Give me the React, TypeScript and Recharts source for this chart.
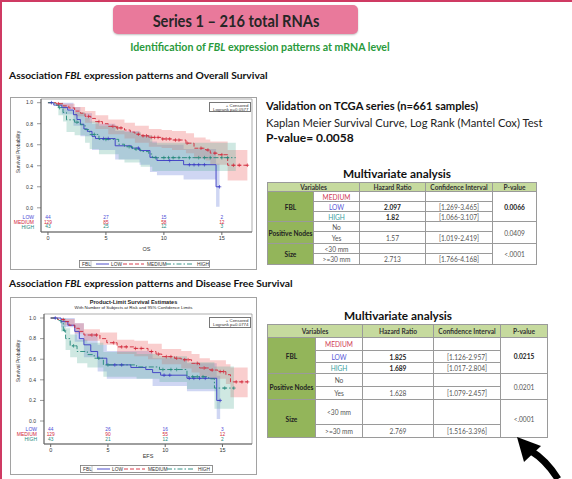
import React from 'react';
import { ComposedChart, Line, Area, Scatter, XAxis, YAxis, ReferenceArea } from 'recharts';

type Pt = [number, number];
type Band = [number, number, number];
type Group = 'LOW' | 'MEDIUM' | 'HIGH';

// ---- Overall survival (OS): [years, survival]
const osLow: Pt[] = [[0, 1], [0.5, 0.977], [1.2, 0.955], [1.7, 0.93], [2.2, 0.886], [2.5, 0.84], [2.8, 0.795], [3.1, 0.75], [3.4, 0.727], [3.8, 0.68], [4.1, 0.659], [5.8, 0.59], [7.2, 0.568], [7.9, 0.545], [8.8, 0.48], [9.4, 0.45], [11.7, 0.41], [14.5, 0.2], [14.8, 0.2]];
const osMedium: Pt[] = [[0, 1], [0.7, 0.99], [1.3, 0.97], [1.8, 0.95], [2.3, 0.92], [2.8, 0.9], [3.2, 0.87], [3.7, 0.85], [4.1, 0.82], [4.7, 0.8], [5.2, 0.775], [5.9, 0.76], [6.6, 0.74], [7.1, 0.72], [7.5, 0.7], [8.1, 0.685], [8.7, 0.67], [9.8, 0.655], [10.7, 0.645], [11.9, 0.615], [12.6, 0.567], [13.6, 0.55], [14.0, 0.52], [14.6, 0.505], [15.5, 0.405], [17.2, 0.405]];
const osHigh: Pt[] = [[0, 1], [0.6, 0.977], [0.9, 0.953], [1.3, 0.907], [1.6, 0.837], [2.3, 0.814], [2.8, 0.79], [3.2, 0.744], [3.6, 0.698], [4.4, 0.651], [6.1, 0.605], [6.6, 0.581], [7.3, 0.558], [8.0, 0.535], [8.7, 0.512], [9.0, 0.477], [16.2, 0.477]];

// 95% confidence limits: [years, lower, upper]
const osLowBand: Band[] = [[0, 1, 1], [1.2, 0.89, 1], [2.2, 0.78, 0.96], [2.8, 0.68, 0.9], [3.8, 0.55, 0.8], [5.8, 0.46, 0.73], [7.9, 0.41, 0.69], [8.8, 0.34, 0.63], [9.4, 0.31, 0.6], [11.7, 0.27, 0.56], [14.5, 0.01, 0.42], [14.8, 0.01, 0.42]];
const osMediumBand: Band[] = [[0, 1, 1], [0.7, 0.97, 1], [1.3, 0.94, 0.99], [2.3, 0.87, 0.96], [3.2, 0.81, 0.92], [4.1, 0.75, 0.88], [5.2, 0.7, 0.84], [6.6, 0.66, 0.81], [7.5, 0.62, 0.78], [8.7, 0.58, 0.75], [9.8, 0.57, 0.74], [10.7, 0.55, 0.73], [11.9, 0.52, 0.71], [12.6, 0.47, 0.67], [13.6, 0.45, 0.65], [14.0, 0.41, 0.63], [15.5, 0.26, 0.55], [17.2, 0.26, 0.55]];
const osHighBand: Band[] = [[0, 1, 1], [0.9, 0.88, 1], [1.3, 0.82, 0.97], [1.6, 0.72, 0.93], [2.3, 0.69, 0.91], [3.2, 0.62, 0.86], [3.6, 0.56, 0.82], [4.4, 0.51, 0.78], [6.1, 0.46, 0.74], [6.6, 0.43, 0.72], [8.0, 0.39, 0.69], [9.0, 0.35, 0.62], [16.2, 0.35, 0.62]];

const osLowCensor = [0.3, 4.8, 5.2, 7.8, 10.5, 12.2, 12.6, 13.0, 13.5, 14.8];
const osMediumCensor = [0.9, 3.5, 4.4, 5.6, 6.0, 6.3, 7.8, 8.2, 8.5, 8.9, 9.2, 9.5, 9.9, 10.2, 10.5, 11.0, 11.3, 12.0, 13.2, 13.8, 14.4, 15.0, 16.0, 16.5, 17.2];
const osHighCensor = [1.0, 2.5, 4.0, 5.0, 7.0, 7.6, 9.3, 10.0, 10.4, 10.8, 11.3, 12.2, 13.0, 13.5, 14.0, 15.0, 15.5];

// ---- Disease free survival (EFS)
const efsLow: Pt[] = [[0, 1], [0.9, 0.965], [1.5, 0.93], [2.1, 0.87], [2.5, 0.8], [2.9, 0.74], [3.5, 0.675], [4.1, 0.61], [4.9, 0.545], [7.0, 0.52], [8.3, 0.5], [8.9, 0.47], [9.6, 0.445], [11.9, 0.415], [14.5, 0.2], [14.8, 0.2]];
const efsMedium: Pt[] = [[0, 1], [0.6, 0.985], [1.2, 0.965], [1.6, 0.93], [2.1, 0.9], [2.5, 0.87], [2.9, 0.835], [4.3, 0.8], [4.9, 0.76], [5.8, 0.72], [7.3, 0.705], [8.5, 0.675], [9.2, 0.65], [9.7, 0.625], [10.8, 0.61], [11.4, 0.595], [12.3, 0.56], [13.0, 0.515], [13.9, 0.495], [14.6, 0.48], [15.3, 0.45], [15.7, 0.38], [17.2, 0.38]];
const efsHigh: Pt[] = [[0, 1], [0.6, 0.975], [0.9, 0.95], [1.1, 0.88], [1.3, 0.8], [1.7, 0.73], [2.3, 0.675], [3.2, 0.645], [3.8, 0.61], [4.6, 0.545], [7.5, 0.525], [9.5, 0.5], [11.9, 0.43], [13.8, 0.41], [14.3, 0.32], [16.0, 0.32]];

const efsLowBand: Band[] = [[0, 1, 1], [0.9, 0.91, 1], [2.1, 0.77, 0.95], [2.9, 0.62, 0.85], [4.1, 0.48, 0.74], [4.9, 0.41, 0.68], [8.9, 0.34, 0.61], [11.9, 0.29, 0.56], [14.5, 0.02, 0.44], [14.8, 0.02, 0.44]];
const efsMediumBand: Band[] = [[0, 1, 1], [1.2, 0.93, 0.99], [2.1, 0.85, 0.95], [2.9, 0.78, 0.89], [4.3, 0.74, 0.86], [5.8, 0.65, 0.79], [7.3, 0.63, 0.78], [8.5, 0.6, 0.75], [9.7, 0.55, 0.7], [11.4, 0.51, 0.68], [12.3, 0.47, 0.65], [13.0, 0.43, 0.61], [13.9, 0.41, 0.59], [15.3, 0.36, 0.55], [15.7, 0.23, 0.52], [17.2, 0.23, 0.52]];
const efsHighBand: Band[] = [[0, 1, 1], [0.9, 0.87, 1], [1.3, 0.69, 0.9], [1.7, 0.62, 0.84], [2.3, 0.56, 0.79], [3.2, 0.52, 0.76], [4.6, 0.43, 0.67], [7.5, 0.41, 0.65], [9.5, 0.38, 0.63], [11.9, 0.31, 0.57], [14.3, 0.12, 0.53], [16.0, 0.12, 0.53]];

const efsLowCensor = [0.4, 5.6, 6.2, 9.9, 10.4, 12.1, 12.5, 13.0, 13.5, 14.8];
const efsMediumCensor = [1.1, 3.6, 4.0, 5.5, 6.2, 6.6, 7.4, 7.9, 8.8, 9.4, 10.1, 10.5, 11.0, 11.7, 12.0, 12.8, 13.4, 14.1, 14.8, 15.1, 16.2, 16.7, 17.2];
const efsHighCensor = [1.2, 2.0, 4.2, 5.0, 9.8, 10.5, 11.0, 12.4, 12.8, 13.3, 15.2, 16.0];

// numbers at risk
const atRiskTimes = [0, 5, 10, 15];
const osAtRiskLow = [44, 27, 15, 2];
const osAtRiskMedium = [129, 85, 58, 12];
const osAtRiskHigh = [43, 25, 12, 3];
const efsAtRiskLow = [44, 26, 16, 3];
const efsAtRiskMedium = [129, 90, 55, 12];
const efsAtRiskHigh = [43, 21, 12, 2];

const xTicks = [0, 5, 10, 15];
const yTicks = [0, 0.2, 0.4, 0.6, 0.8, 1.0];
const groups: Group[] = ['LOW', 'MEDIUM', 'HIGH'];

const PAGE_FONT = 'Lato, "Open Sans", sans-serif';
const PLOT_FONT = '"Liberation Sans", Arial, sans-serif';

const COLOR: Record<Group, string> = { LOW: '#3a3ac4', MEDIUM: '#d2283a', HIGH: '#23887a' };
const LABEL_COLOR: Record<Group, string> = { LOW: '#4a4ad6', MEDIUM: '#d2283a', HIGH: '#23887a' };
const BAND_FILL: Record<Group, string> = {
    LOW: 'rgba(96,118,214,0.30)',
    MEDIUM: 'rgba(238,112,112,0.34)',
    HIGH: 'rgba(96,178,158,0.30)',
};
const DASH: Record<Group, string | undefined> = { LOW: undefined, MEDIUM: '4 2', HIGH: '5 2 1.5 2' };

const stepAt = (pts: Pt[], t: number) => {
    let s = pts[0][1];
    for (const [pt, ps] of pts) if (pt <= t) s = ps;
    return s;
};

interface Series {
    group: Group;
    pts: Pt[];
    band: Band[];
    censor: number[];
    atRisk: number[];
}

const YTick = (props: any) => {
    const { x, y, payload, rowY } = props;
    const v = payload.value as number;
    const g = groups.find((k) => Math.abs(rowY[k] - v) < 1e-6);
    if (g) {
        return (
            <text x={x + 1} y={y} dy={1.8} textAnchor="end" fontSize={5} fill={LABEL_COLOR[g]} fontFamily={PLOT_FONT}>
                {g}
            </text>
        );
    }
    return (
        <g>
            <line x1={x + 4} x2={x + 8} y1={y} y2={y} stroke="#555" strokeWidth={0.6} />
            <text x={x} y={y} dy={1.8} textAnchor="end" fontSize={5} fill="#333" fontFamily={PLOT_FONT}>
                {v.toFixed(1)}
            </text>
        </g>
    );
};

interface KMProps {
    left: number;
    top: number;
    width: number;
    height: number;
    margin: { top: number; right: number; bottom: number; left: number };
    yAxisWidth: number;
    xAxisHeight: number;
    xDomain: [number, number];
    yDomain: [number, number];
    rowY: Record<Group, number>;
    series: Series[];
    xLabel: string;
    logrank: string;
    yLabelY: number;
    legend: [number, number, number, number];
    logrankBox: [number, number, number, number];
    titleY?: number;
}

const KMPlot = (p: KMProps) => {
    const [lx, ly, lw, lh] = p.legend;
    const [bx, by, bw, bh] = p.logrankBox;
    return (
        <>
            <div
                style={{
                    position: 'absolute',
                    left: p.left,
                    top: p.top,
                    width: p.width,
                    height: p.height,
                    border: '1px solid #a2a2a2',
                    boxSizing: 'border-box',
                    background: '#fff',
                }}
            />
            <div style={{ position: 'absolute', left: p.left, top: p.top }}>
                <ComposedChart width={p.width} height={p.height} margin={p.margin}>
                    <XAxis
                        type="number"
                        dataKey="t"
                        domain={p.xDomain}
                        allowDataOverflow
                        ticks={xTicks}
                        interval={0}
                        height={p.xAxisHeight}
                        tickSize={3}
                        tickMargin={1}
                        stroke="#666"
                        tick={{ fontSize: 5.5, fill: '#333', fontFamily: PLOT_FONT }}
                        label={{ value: p.xLabel, position: 'insideBottom', offset: 0, fontSize: 5.5, fill: '#333', fontFamily: PLOT_FONT }}
                    />
                    <YAxis
                        type="number"
                        domain={p.yDomain}
                        allowDataOverflow
                        ticks={[p.rowY.HIGH, p.rowY.MEDIUM, p.rowY.LOW, ...yTicks]}
                        interval={0}
                        width={p.yAxisWidth}
                        tickSize={4}
                        tickMargin={4}
                        tickLine={false}
                        stroke="#666"
                        tick={<YTick rowY={p.rowY} />}
                    />
                    <ReferenceArea
                        x1={p.xDomain[0]}
                        x2={p.xDomain[1]}
                        y1={p.yDomain[0]}
                        y2={p.yDomain[1]}
                        fill="none"
                        stroke="#8a8a8a"
                        strokeWidth={0.7}
                        ifOverflow="visible"
                    />
                    {p.series.map((s) => (
                        <Area
                            key={'band' + s.group}
                            data={s.band.map(([t, lo, hi]) => ({ t, band: [lo, hi] }))}
                            dataKey="band"
                            type="stepAfter"
                            fill={BAND_FILL[s.group]}
                            fillOpacity={1}
                            stroke="none"
                            isAnimationActive={false}
                        />
                    ))}
                    {p.series.map((s) => (
                        <Line
                            key={'line' + s.group}
                            data={s.pts.map(([t, v]) => ({ t, s: v }))}
                            dataKey="s"
                            type="stepAfter"
                            stroke={COLOR[s.group]}
                            strokeWidth={0.9}
                            strokeDasharray={DASH[s.group]}
                            dot={false}
                            isAnimationActive={false}
                        />
                    ))}
                    {p.series.map((s) => (
                        <Scatter
                            key={'cens' + s.group}
                            data={s.censor.map((t) => ({ t, s: stepAt(s.pts, t) }))}
                            dataKey="s"
                            isAnimationActive={false}
                            shape={(q: any) => (
                                <path
                                    d={`M${q.cx - 1.8},${q.cy}h3.6M${q.cx},${q.cy - 1.8}v3.6`}
                                    stroke={COLOR[s.group]}
                                    strokeWidth={0.7}
                                />
                            )}
                        />
                    ))}
                    {p.series.map((s) => (
                        <Scatter
                            key={'risk' + s.group}
                            data={atRiskTimes.map((t, i) => ({ t, s: p.rowY[s.group], n: s.atRisk[i] }))}
                            dataKey="s"
                            isAnimationActive={false}
                            shape={(q: any) => (
                                <text
                                    x={q.cx}
                                    y={q.cy}
                                    dy={1.7}
                                    textAnchor="middle"
                                    fontSize={4.8}
                                    fill={LABEL_COLOR[s.group]}
                                    fontFamily={PLOT_FONT}
                                >
                                    {q.payload?.n ?? q.n}
                                </text>
                            )}
                        />
                    ))}
                </ComposedChart>
            </div>
            {p.titleY !== undefined && (
                <div
                    style={{
                        position: 'absolute',
                        left: p.left,
                        width: p.width,
                        top: p.titleY,
                        textAlign: 'center',
                        fontFamily: PLOT_FONT,
                        color: '#222',
                        lineHeight: 1.05,
                    }}
                >
                    <div style={{ fontSize: 5.6, fontWeight: 700 }}>Product-Limit Survival Estimates</div>
                    <div style={{ fontSize: 4.4 }}>With Number of Subjects at Risk and 95% Confidence Limits</div>
                </div>
            )}
            <div
                style={{
                    position: 'absolute',
                    left: p.left + 8,
                    top: p.yLabelY,
                    fontSize: 5,
                    fontFamily: PLOT_FONT,
                    color: '#333',
                    whiteSpace: 'nowrap',
                    transform: 'translate(-50%, -50%) rotate(-90deg)',
                }}
            >
                Survival Probability
            </div>
            <div
                style={{
                    position: 'absolute',
                    left: bx,
                    top: by,
                    width: bw,
                    height: bh,
                    border: '0.8px solid #777',
                    boxSizing: 'border-box',
                    fontSize: 4.4,
                    fontFamily: PLOT_FONT,
                    color: '#333',
                    textAlign: 'right',
                    whiteSpace: 'nowrap',
                    padding: '0.5px 1.5px',
                    lineHeight: 1.05,
                    background: '#fff',
                }}
            >
                <div>+ Censored</div>
                <div>{p.logrank}</div>
            </div>
            <svg style={{ position: 'absolute', left: lx, top: ly }} width={lw} height={lh}>
                <rect x={0.5} y={0.5} width={lw - 1} height={lh - 1} fill="#fff" stroke="#777" strokeWidth={0.8} />
                <text x={3} y={lh / 2 + 1.7} fontSize={4.8} fill="#333" fontFamily={PLOT_FONT}>FBL</text>
                <line x1={12} x2={12} y1={1} y2={lh - 1} stroke="#999" strokeWidth={0.6} />
                <line x1={17} x2={30} y1={lh / 2} y2={lh / 2} stroke={COLOR.LOW} strokeWidth={0.9} />
                <text x={32} y={lh / 2 + 1.7} fontSize={4.8} fill="#333" fontFamily={PLOT_FONT}>LOW</text>
                <line x1={44} x2={65} y1={lh / 2} y2={lh / 2} stroke={COLOR.MEDIUM} strokeWidth={0.9} strokeDasharray={DASH.MEDIUM} />
                <text x={68} y={lh / 2 + 1.7} fontSize={4.8} fill="#333" fontFamily={PLOT_FONT}>MEDIUM</text>
                <line x1={87} x2={114} y1={lh / 2} y2={lh / 2} stroke={COLOR.HIGH} strokeWidth={0.9} strokeDasharray={DASH.HIGH} />
                <text x={118} y={lh / 2 + 1.7} fontSize={4.8} fill="#333" fontFamily={PLOT_FONT}>HIGH</text>
            </svg>
        </>
    );
};

// ---- multivariate tables
interface Cell {
    c: [number, number];
    r: [number, number];
    text?: string;
    kind?: 'head' | 'var' | 'bold' | Group | 'sub' | 'val';
    open?: boolean; // no bottom rule
}

const buildCells = (hr: string[], ci: string[], pv: string[], mergedLowHigh: boolean): Cell[] => [
    { c: [0, 2], r: [0, 1], text: 'Variables', kind: 'head' },
    { c: [2, 3], r: [0, 1], text: 'Hazard Ratio', kind: 'head' },
    { c: [3, 4], r: [0, 1], text: 'Confidence Interval', kind: 'head' },
    { c: [4, 5], r: [0, 1], text: 'P-value', kind: 'head' },
    { c: [0, 1], r: [1, 4], text: 'FBL', kind: 'var' },
    { c: [1, 2], r: [1, 2], text: 'MEDIUM', kind: 'MEDIUM' },
    { c: [1, 2], r: [2, 3], text: 'LOW', kind: 'LOW', open: mergedLowHigh },
    { c: [1, 2], r: [3, 4], text: 'HIGH', kind: 'HIGH' },
    { c: [2, 3], r: [1, 2] },
    { c: [2, 3], r: [2, 3], text: hr[0], kind: 'bold', open: mergedLowHigh },
    { c: [2, 3], r: [3, 4], text: hr[1], kind: 'bold' },
    { c: [3, 4], r: [1, 2] },
    { c: [3, 4], r: [2, 3], text: ci[0], kind: 'val', open: mergedLowHigh },
    { c: [3, 4], r: [3, 4], text: ci[1], kind: 'val' },
    { c: [4, 5], r: [1, 4], text: pv[0], kind: 'bold' },
    { c: [0, 1], r: [4, 6], text: 'Positive Nodes', kind: 'var' },
    { c: [1, 2], r: [4, 5], text: 'No', kind: 'sub' },
    { c: [1, 2], r: [5, 6], text: 'Yes', kind: 'sub' },
    { c: [2, 3], r: [4, 5] },
    { c: [2, 3], r: [5, 6], text: hr[2], kind: 'val' },
    { c: [3, 4], r: [4, 5] },
    { c: [3, 4], r: [5, 6], text: ci[2], kind: 'val' },
    { c: [4, 5], r: [4, 6], text: pv[1], kind: 'val' },
    { c: [0, 1], r: [6, 8], text: 'Size', kind: 'var' },
    { c: [1, 2], r: [6, 7], text: '<30  mm', kind: 'sub' },
    { c: [1, 2], r: [7, 8], text: '>=30 mm', kind: 'sub' },
    { c: [2, 3], r: [6, 7] },
    { c: [2, 3], r: [7, 8], text: hr[3], kind: 'val' },
    { c: [3, 4], r: [6, 7] },
    { c: [3, 4], r: [7, 8], text: ci[3], kind: 'val' },
    { c: [4, 5], r: [6, 8], text: pv[2], kind: 'val' },
];

const table1Hr = ['2.097', '1.82', '1.57', '2.713'];
const table1Ci = ['[1.269-3.465]', '[1.066-3.107]', '[1.019-2.419]', '[1.766-4.168]'];
const table1P = ['0.0066', '0.0409', '<.0001'];
const table2Hr = ['1.825', '1.689', '1.628', '2.769'];
const table2Ci = ['[1.126-2.957]', '[1.017-2.804]', '[1.079-2.457]', '[1.516-3.396]'];
const table2P = ['0.0215', '0.0201', '<.0001'];

const cellStyle = (kind?: Cell['kind']): React.CSSProperties => {
    switch (kind) {
        case 'head':
            return { background: '#c6da9e', fontWeight: 700, color: '#333' };
        case 'var':
            return { background: '#93b55a', fontWeight: 700, color: '#222' };
        case 'bold':
            return { fontWeight: 700, color: '#222' };
        case 'LOW':
            return { color: '#5a5ad8' };
        case 'MEDIUM':
            return { color: '#d03a55' };
        case 'HIGH':
            return { color: '#3aa0a0' };
        default:
            return { color: '#555' };
    }
};

const MultiTable = ({ cols, rows, cells }: { cols: number[]; rows: number[]; cells: Cell[] }) => (
    <>
        {cells.map((cell, i) => {
            const [c0, c1] = cell.c;
            const [r0, r1] = cell.r;
            return (
                <div
                    key={i}
                    style={{
                        position: 'absolute',
                        left: cols[c0],
                        top: rows[r0],
                        width: cols[c1] - cols[c0] + 1,
                        height: rows[r1] - rows[r0] + (cell.open ? 0 : 1),
                        border: '1px solid #9a9a9a',
                        borderBottom: cell.open ? 'none' : '1px solid #9a9a9a',
                        boxSizing: 'border-box',
                        background: '#fff',
                        display: 'flex',
                        alignItems: 'center',
                        justifyContent: 'center',
                        fontFamily: PAGE_FONT,
                        fontSize: 6.6,
                        whiteSpace: 'nowrap',
                        ...cellStyle(cell.kind),
                    }}
                >
                    {cell.text}
                </div>
            );
        })}
    </>
);

const osSeries: Series[] = [
    { group: 'LOW', pts: osLow, band: osLowBand, censor: osLowCensor, atRisk: osAtRiskLow },
    { group: 'MEDIUM', pts: osMedium, band: osMediumBand, censor: osMediumCensor, atRisk: osAtRiskMedium },
    { group: 'HIGH', pts: osHigh, band: osHighBand, censor: osHighCensor, atRisk: osAtRiskHigh },
];
const efsSeries: Series[] = [
    { group: 'LOW', pts: efsLow, band: efsLowBand, censor: efsLowCensor, atRisk: efsAtRiskLow },
    { group: 'MEDIUM', pts: efsMedium, band: efsMediumBand, censor: efsMediumCensor, atRisk: efsAtRiskMedium },
    { group: 'HIGH', pts: efsHigh, band: efsHighBand, censor: efsHighCensor, atRisk: efsAtRiskHigh },
];

const text = (x: number, y: number, size: number, extra: React.CSSProperties = {}): React.CSSProperties => ({
    position: 'absolute',
    left: x,
    top: y,
    fontSize: size,
    fontFamily: PAGE_FONT,
    whiteSpace: 'nowrap',
    lineHeight: 1,
    transform: 'translateY(-50%)',
    color: '#111',
    ...extra,
});

const App = () => (
    <div
        style={{
            position: 'absolute',
            left: 0,
            top: 0,
            width: 572,
            height: 479,
            overflow: 'hidden',
            background: '#fff',
        }}
    >
        {/* slide edges */}
        <div style={{ position: 'absolute', left: 0, top: 0, width: 572, height: 2, background: '#cf3a63' }} />
        <div style={{ position: 'absolute', left: 0, top: 0, width: 2, height: 479, background: '#cf3a63' }} />

        {/* title */}
        <div
            style={{
                position: 'absolute',
                left: 113,
                top: 5,
                width: 245,
                height: 29,
                background: '#e9799b',
                borderRadius: 5,
                boxShadow: '0 1px 2px rgba(0,0,0,0.25)',
            }}
        />
        <div style={text(236, 20, 17, { fontWeight: 700, color: '#262626', transform: 'translate(-50%, -50%) scaleX(0.86)' })}>
            Series 1 – 216 total RNAs
        </div>
        <div style={text(260, 47, 10.6, { fontWeight: 700, color: '#2a9a3c', transform: 'translate(-50%, -50%)' })}>
            Identification of <i>FBL</i> expression patterns at mRNA level
        </div>

        <div style={text(9, 75, 10.3, { fontWeight: 700 })}>
            Association <i>FBL</i> expression patterns and Overall Survival
        </div>
        <div style={text(9, 283, 10.3, { fontWeight: 700 })}>
            Association <i>FBL</i> expression patterns and Disease Free Survival
        </div>

        <KMPlot
            left={10}
            top={97}
            width={247}
            height={173}
            margin={{ top: 2, right: 5, bottom: 19, left: 0 }}
            yAxisWidth={31}
            xAxisHeight={19}
            xDomain={[-0.6, 17.6]}
            yDomain={[-0.23, 1.035]}
            rowY={{ LOW: -0.086, MEDIUM: -0.133, HIGH: -0.18 }}
            series={osSeries}
            xLabel="OS"
            logrank="Logrank p=0.0577"
            yLabelY={152}
            legend={[79, 260, 131, 8]}
            logrankBox={[209, 102, 42, 10]}
        />
        <KMPlot
            left={10}
            top={297}
            width={247}
            height={178}
            margin={{ top: 17, right: 5, bottom: 17, left: 0 }}
            yAxisWidth={34}
            xAxisHeight={14}
            xDomain={[-0.585, 17.58]}
            yDomain={[-0.223, 1.039]}
            rowY={{ LOW: -0.078, MEDIUM: -0.126, HIGH: -0.175 }}
            series={efsSeries}
            xLabel="EFS"
            logrank="Logrank p=0.0774"
            yLabelY={361}
            legend={[80, 465, 133, 8]}
            logrankBox={[209, 317, 42, 11]}
            titleY={300}
        />

        {/* TCGA validation */}
        <div style={text(266, 106, 11.2, { fontWeight: 700 })}>Validation on TCGA series (n=661 samples)</div>
        <div style={text(266, 123, 11.2, { color: '#222' })}>Kaplan Meier Survival Curve, Log Rank (Mantel Cox) Test</div>
        <div style={text(266, 138, 12, { fontWeight: 700 })}>P-value= 0.0058</div>

        <div style={text(397, 174, 11.8, { fontWeight: 700, transform: 'translate(-50%, -50%)' })}>Multivariate analysis</div>
        <MultiTable
            cols={[267, 313, 359, 425, 492, 536]}
            rows={[182, 191, 201, 211, 221, 231, 243, 253, 264]}
            cells={buildCells(table1Hr, table1Ci, table1P, false)}
        />

        <div style={text(398, 316, 11.8, { fontWeight: 700, transform: 'translate(-50%, -50%)' })}>Multivariate analysis</div>
        <MultiTable
            cols={[267, 315, 362, 433, 500, 547]}
            rows={[324, 337, 350, 362, 373, 386, 399, 424, 437]}
            cells={buildCells(table2Hr, table2Ci, table2P, true)}
        />

        {/* curved arrow */}
        <svg style={{ position: 'absolute', left: 500, top: 430 }} width={72} height={49}>
            <path d="M31,21 Q46,30 58,49" fill="none" stroke="#000" strokeWidth={7} />
            <polygon points="17,7 41,16 24,32" fill="#000" />
        </svg>
    </div>
);

export default App;
